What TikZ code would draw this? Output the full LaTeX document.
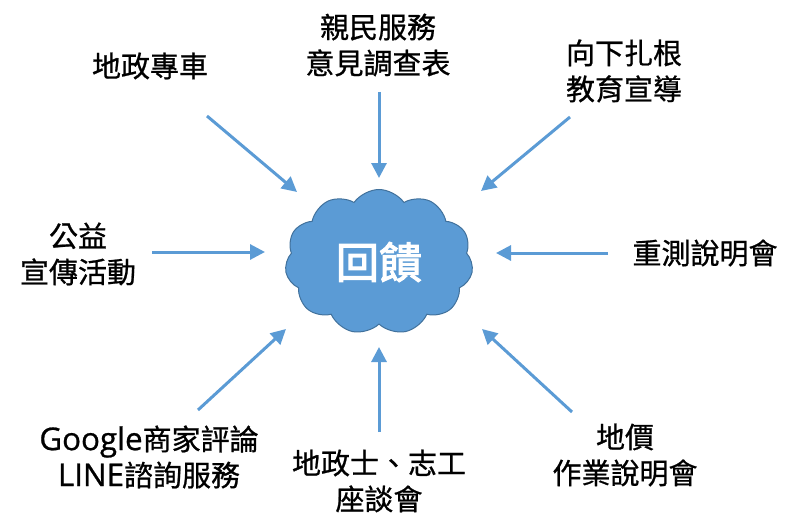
\documentclass[tikz,border=0pt]{standalone}
\usepackage{fontspec}
\setmainfont{Noto Sans CJK TC}[FakeBold=0.8]
\newfontfamily\latfont{Open Sans}[FakeBold=0.8,Scale=1.08]
\newfontfamily\boldcjk{Noto Sans CJK TC}[FakeBold=2.5]
\usetikzlibrary{shapes.symbols,arrows.meta}
\definecolor{cloudblue}{HTML}{5B9BD5}
\definecolor{cloudedge}{HTML}{41719C}
\tikzset{
  lbl/.style={align=center,font=\fontsize{29}{36}\selectfont,text=black,inner sep=0pt},
  feed/.style={draw=cloudblue,line width=3pt,-{Triangle[length=15pt,width=15pt]}},
  cloudbox/.style={cloud,cloud puffs=11,cloud puff arc=110,aspect=1.3,fill=cloudblue,draw=cloudedge,line width=1pt,minimum width=188pt,minimum height=145pt,inner sep=0pt,text=white,font=\fontsize{43}{50}\selectfont\boldcjk}
}
\begin{document}
\begin{tikzpicture}[x=1pt,y=-1pt]
\useasboundingbox (0,0) rectangle (800,532);
\node[cloudbox] (c) at (379,262) {回饋};
\node[lbl] (t1) at (150,66) {地政專車};
\node[lbl] (t2) at (378,45) {親民服務\\意見調查表};
\node[lbl] (t3) at (624,71) {向下扎根\\教育宣導};
\node[lbl] (t4) at (78,254) {公益\\宣傳活動};
\node[lbl] (t5) at (705,253) {重測說明會};
\node[lbl] (t6) at (149,457) {{\latfont Google}商家評論\\{\latfont LINE}諮詢服務};
\node[lbl] (t7) at (379,481) {地政士、志工\\座談會};
\node[lbl] (t8) at (625,455) {地價\\作業說明會};
\coordinate (a1) at (207,116); \coordinate (b1) at (297,192);
\coordinate (a2) at (379,92);  \coordinate (b2) at (379,178);
\coordinate (a3) at (570,117); \coordinate (b3) at (481,191);
\coordinate (a4) at (152,252); \coordinate (b4) at (265,252);
\coordinate (a5) at (608,253); \coordinate (b5) at (496,253);
\coordinate (a6) at (198,410); \coordinate (b6) at (286,329);
\coordinate (a7) at (379,432); \coordinate (b7) at (379,347);
\coordinate (a8) at (572,412); \coordinate (b8) at (482,329);
\foreach \i in {1,...,8} {\draw[feed] (a\i) -- (b\i);}
\end{tikzpicture}
\end{document}
